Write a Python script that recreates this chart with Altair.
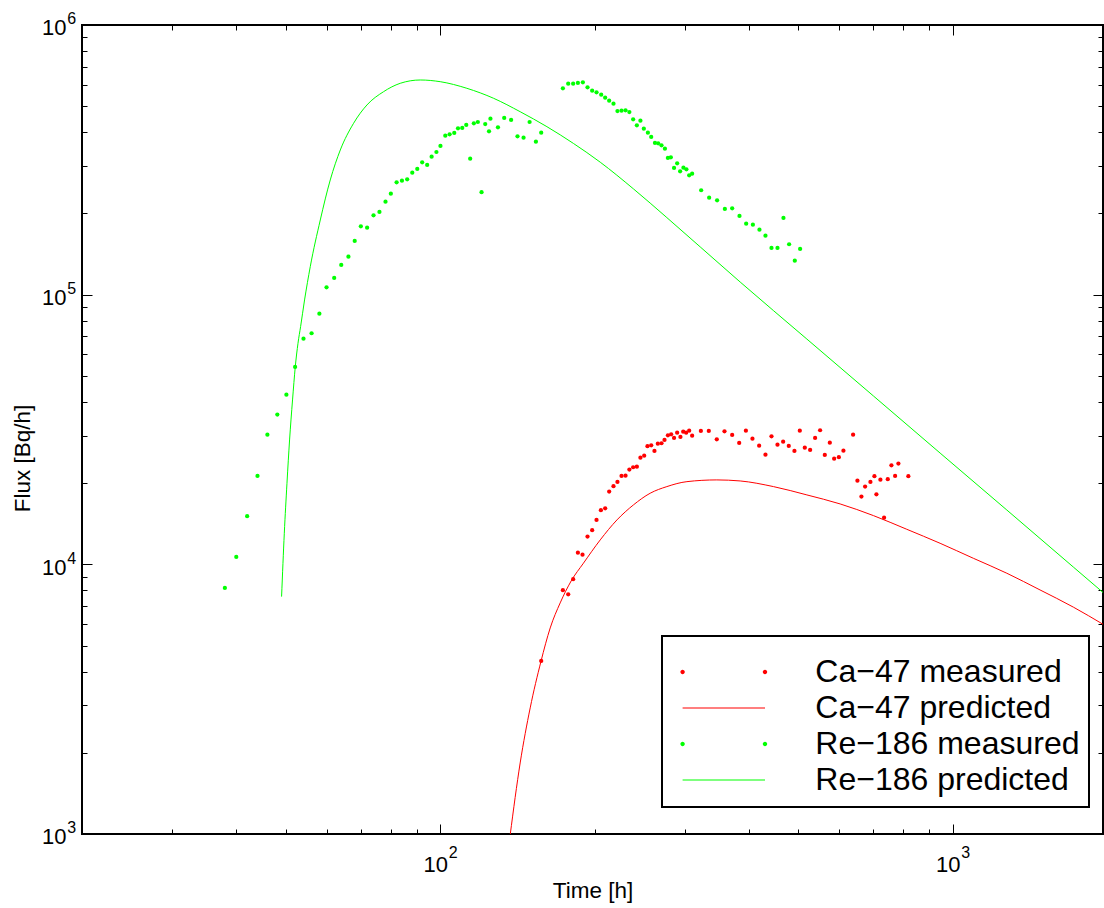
import altair as alt
import pandas as pd

# ---------------- data ----------------
# Re-186 measured
re_meas_t = [38.0, 40.0, 42.0, 44.0, 46.0, 48.1, 50.1, 52.1, 54.1, 56.1, 58.1,
             60.0, 62.1, 64.1, 66.2, 68.1, 70.0, 72.0, 74.1, 76.1, 78.2, 80.1, 82.2, 84.2, 86.2,
             88.2, 90.2, 92.2, 94.3, 96.2, 98.3,
             100.1, 102.3, 104.3, 106.5, 108.3, 110.4, 112.4, 114.4, 116.3, 118.4, 120.4,
             122.4, 124.5, 125.3, 129.6, 133.3, 137.5, 141.5, 145.4, 149.4, 153.7, 157.4,
             173.5, 177.7, 181.7, 185.6, 189.8, 193.8, 197.9, 201.8, 206.1, 209.8, 213.6, 217.8,
             221.7, 225.8, 229.9, 233.9, 237.9, 241.9, 245.8, 249.6, 254.2, 258.0, 262.4, 266.2,
             270.2, 274.4, 278.1, 281.8, 285.9, 289.9, 293.8, 298.2, 302.2, 306.0, 310.1,
             322.9, 334.7, 346.9, 359.2, 371.2, 383.6, 395.3, 407.4, 419.6, 431.1, 442.9, 455.0,
             467.4, 479.4, 491.8, 503.7]
re_meas_f = [8175, 10650, 15080, 21270, 30260, 35910, 42580, 53930, 68690, 71930, 85040,
             106500, 115300, 128900, 138300, 158200, 179300, 177200, 197000, 202600, 221200,
             236900, 261100, 264700, 267900, 283500, 292500, 309700, 302600, 324900, 338100,
             355900, 388600, 393300, 397900, 414000, 415100, 425800, 319400, 432000, 436800,
             239800, 429400, 403500, 449400, 417600, 452100, 444400, 386700, 382100, 436800,
             369300, 398900,
             582500, 606000, 606000, 609500, 613200, 587500, 570700, 562900, 551500, 537500,
             524000, 510800,
             479800, 481000, 482700, 475700, 447100, 424700, 441800, 412600, 398900, 384400,
             365200, 364200, 358000, 347800, 321300, 323200, 295000, 307000, 286800, 295700,
             291700, 277200, 281000,
             243900, 229000, 223900, 207900, 209100, 195800, 183400, 181800, 174200, 165500,
             149000, 149000, 192500, 153800, 133700, 147700]

# Ca-47 measured
ca_meas_t = [157.4, 173.5, 177.7, 181.7, 185.6, 189.5, 193.8, 197.9, 201.8, 205.8,
             209.8, 213.6, 217.8, 221.7, 225.8, 229.9, 233.9, 237.9, 241.9, 245.8,
             250.0, 253.7, 258.0, 261.8, 265.8, 270.2, 273.9, 278.1, 282.2, 285.9,
             289.9, 294.2, 297.9, 301.9, 306.0, 310.1, 322.5, 334.2, 346.4, 358.6,
             371.2, 383.1, 394.8, 406.6, 419.0, 431.1, 442.9, 455.0, 466.7, 478.7,
             491.0, 503.0, 514.4, 526.9, 538.8, 551.0, 562.8, 575.6, 586.9, 599.5,
             611.9, 639.1, 651.6, 663.4, 674.5, 690.8, 703.3, 709.6, 722.5, 734.5,
             746.8, 759.1, 771.8, 783.3, 819.1]
ca_meas_f = [4384, 8017, 7745, 8806, 11050, 10860, 12670, 13380, 14610, 15870,
             16140, 18610, 19480, 20210, 21270, 21320, 22450, 22910, 23030, 24870,
             25290, 27410, 27640, 26330, 28020, 28120, 28920, 30100, 30360, 29420,
             30770, 29670, 31050, 30770, 31310, 30000, 31230, 31230, 29090, 31150,
             30180, 28190, 31310, 29240, 27550, 25510, 29850, 27780, 28510, 27480,
             26330, 31310, 27080, 26550, 29420, 31420, 25450, 28260, 24660, 24960,
             26400, 30260, 20430, 17830, 19420, 20210, 21220, 18190, 20610, 14900,
             20680, 23300, 21270, 23630, 21220]

# Ca-47 predicted
ca_pred_t = [136.9, 143.2, 149.8, 157.2, 163.9, 171.4, 180.1, 190.3, 205.2, 221.2, 238.2,
             256.8, 276.8, 302.9, 346.4, 384.8, 446.9, 519.2, 602.9, 700.2, 813.3, 944.7,
             1097, 1275, 1480, 1719, 1973]
ca_pred_f = [990, 1834, 2935, 4359, 5810, 7193, 8680, 10100, 12320, 14610, 16610,
             18350, 19420, 20260, 20560, 20380, 19420, 18090, 16750, 15160, 13490, 11970,
             10530, 9268, 8037, 6940, 5963]

# Re-186 predicted
re_pred_t = [49.03, 49.63, 50.23, 50.82, 51.50, 52.14, 52.78, 53.40, 54.36, 55.77,
             58.34, 61.01, 63.83, 67.75, 71.94, 77.50, 83.56, 91.41, 100.0, 112.7,
             127.1, 143.2, 161.5, 182.0, 205.2, 238.2, 276.8, 321.5, 384.8, 519.2,
             700.2, 944.7, 1275, 1719, 1973]
re_pred_f = [7591, 13040, 19980, 28920, 40700, 54070, 66030, 76100, 95590, 127000,
             189200, 266300, 344000, 432000, 505100, 565700, 607900, 625300, 616300, 582500,
             534800, 476900, 419700, 363600, 309900, 246800, 193100, 150400, 111400, 68450,
             42110, 25860, 15900, 9772, 7807]

series_names = ["Ca\u221247 measured", "Ca\u221247 predicted",
                "Re\u2212186 measured", "Re\u2212186 predicted"]
series_colors = ["#ff0000", "#ff0000", "#00ff00", "#00ff00"]

x_domain = [20, 1964]
y_domain = [1000, 1000000]
label_mantissa = "10"
x_label_values = [100, 1000]
x_label_exponents = ["2", "3"]
y_label_values = [1000, 10000, 100000, 1000000]
y_label_exponents = ["3", "4", "5", "6"]
x_tick_values = [30, 40, 50, 60, 70, 80, 90, 100, 200, 300, 400, 500, 600, 700, 800, 900, 1000]
y_tick_values = [2000, 3000, 4000, 5000, 6000, 7000, 8000, 9000, 10000,
                 20000, 30000, 40000, 50000, 60000, 70000, 80000, 90000, 100000,
                 200000, 300000, 400000, 500000, 600000, 700000, 800000, 900000]

# legend symbols (SVG paths, unit = 8 px): two dots, and a thin line
dots_path = ("M-5.425,0 a0.275,0.275 0 1,0 0.55,0 a0.275,0.275 0 1,0 -0.55,0 Z "
             "M4.875,0 a0.275,0.275 0 1,0 0.55,0 a0.275,0.275 0 1,0 -0.55,0 Z")
line_path = "M-5.15,-0.07 L5.15,-0.07 L5.15,0.07 L-5.15,0.07 Z"
series_symbols = [dots_path, line_path, dots_path, line_path]

# ---------------- chart ----------------
FONT = "Liberation Sans"
W, H = 1021, 809
DOT = 18

df_ca = pd.DataFrame({"t": ca_meas_t, "f": ca_meas_f})
df_cap = pd.DataFrame({"t": ca_pred_t, "f": ca_pred_f})
df_re = pd.DataFrame({"t": re_meas_t, "f": re_meas_f})
df_rep = pd.DataFrame({"t": re_pred_t, "f": re_pred_f})
df_leg = pd.DataFrame({"series": series_names})

xscale = alt.Scale(type="log", domain=x_domain, nice=False)
yscale = alt.Scale(type="log", domain=y_domain, nice=False)


def exp_expr(values, exps):
    expr = "''"
    for v, e in reversed(list(zip(values, exps))):
        expr = f"datum.value == {v} ? '{e}' : ({expr})"
    return expr


major_test = "abs(log(datum.value) / LN10 - round(log(datum.value) / LN10)) < 0.001"
tick_size = {"condition": {"test": major_test, "value": 10}, "value": 5}


def tick_axis(orient, offset, values):
    return alt.Axis(orient=orient, offset=offset, values=values, labels=False,
                    domain=False, grid=False, ticks=True, tickColor="black",
                    tickWidth=1, tickSize=tick_size, title=None)


ax_x_main = alt.Axis(orient="bottom", values=x_label_values, labelExpr=f"'{label_mantissa}'",
                     labelFontSize=22, labelPadding=20.7, labelOffset=-5,
                     labelAlign="center", labelBaseline="top", labelFlush=False,
                     labelOverlap=False, ticks=False, domain=False, grid=False,
                     title="Time [h]", titleFontSize=22.5, titleY=45.1,
                     titleBaseline="top", titleAlign="center")
ax_x_exp = alt.Axis(orient="bottom", values=x_label_values,
                    labelExpr=exp_expr(x_label_values, x_label_exponents),
                    labelFontSize=16, labelPadding=10.2, labelOffset=12.5,
                    labelAlign="center", labelBaseline="top", labelFlush=False,
                    labelOverlap=False, ticks=False, domain=False, grid=False, title=None)
ax_y_main = alt.Axis(orient="left", values=y_label_values, labelExpr=f"'{label_mantissa}'",
                     labelFontSize=22, labelPadding=16.1, labelOffset=2.8,
                     labelAlign="right", labelBaseline="middle", labelFlush=False,
                     labelOverlap=False, ticks=False, domain=False, grid=False,
                     title="Flux [Bq/h]", titleFontSize=22.5, titleX=-48, titleY=433,
                     titleAngle=270, titleBaseline="bottom", titleAlign="center")
ax_y_exp = alt.Axis(orient="left", values=y_label_values,
                    labelExpr=exp_expr(y_label_values, y_label_exponents),
                    labelFontSize=16, labelPadding=6.4, labelOffset=-6.1,
                    labelAlign="right", labelBaseline="middle", labelFlush=False,
                    labelOverlap=False, ticks=False, domain=False, grid=False, title=None)

ca_meas = alt.Chart(df_ca).mark_circle(size=DOT, color="#ff0000", opacity=1).encode(
    x=alt.X("t:Q", scale=xscale, axis=ax_x_main),
    y=alt.Y("f:Q", scale=yscale, axis=ax_y_main),
)
ca_pred = alt.Chart(df_cap).mark_line(color="#ff0000", strokeWidth=1, clip=True,
                                      interpolate="monotone").encode(
    x=alt.X("t:Q", scale=xscale, axis=ax_x_exp),
    y=alt.Y("f:Q", scale=yscale, axis=ax_y_exp),
)
re_meas = alt.Chart(df_re).mark_circle(size=DOT, color="#00ff00", opacity=1).encode(
    x=alt.X("t:Q", scale=xscale, axis=tick_axis("top", -H, x_tick_values)),
    y=alt.Y("f:Q", scale=yscale, axis=tick_axis("right", -W, y_tick_values)),
)
re_pred = alt.Chart(df_rep).mark_line(color="#00ff00", strokeWidth=1, clip=True,
                                      interpolate="monotone").encode(
    x=alt.X("t:Q", scale=xscale, axis=tick_axis("bottom", -H, x_tick_values)),
    y=alt.Y("f:Q", scale=yscale, axis=tick_axis("left", -W, y_tick_values)),
)

legend = alt.Legend(title=" ", titleFontSize=2, titlePadding=7, orient="none",
                    legendX=580, legendY=611,
                    labelFont=FONT, labelFontSize=32, labelColor="black", labelLimit=500,
                    symbolSize=256, symbolStrokeWidth=0, symbolOffset=36.8,
                    padding=9, rowPadding=0, clipHeight=36, labelOffset=75.5,
                    strokeColor="black", fillColor="white")
legend_layer = alt.Chart(df_leg).transform_filter("false").mark_point(
    filled=True, opacity=1).encode(
    color=alt.Color("series:N", scale=alt.Scale(domain=series_names, range=series_colors),
                    legend=legend),
    shape=alt.Shape("series:N", scale=alt.Scale(domain=series_names, range=series_symbols),
                    legend=legend),
)

chart = (
    alt.layer(ca_meas, ca_pred, re_meas, re_pred, legend_layer)
    .resolve_axis(x="independent", y="independent")
    .properties(width=W, height=H, autosize=alt.AutoSizeParams(type="none"),
                padding={"left": 82, "top": 25, "right": 1, "bottom": 74},
                background="white")
    .configure_view(stroke="black", strokeWidth=2)
    .configure_axis(grid=False, labelFont=FONT, titleFont=FONT, labelColor="black",
                    titleColor="black", titleFontWeight="normal")
    .configure_legend(strokeWidth=2)
)

chart.save("out.html", embed_options={"renderer": "svg", "actions": False})
